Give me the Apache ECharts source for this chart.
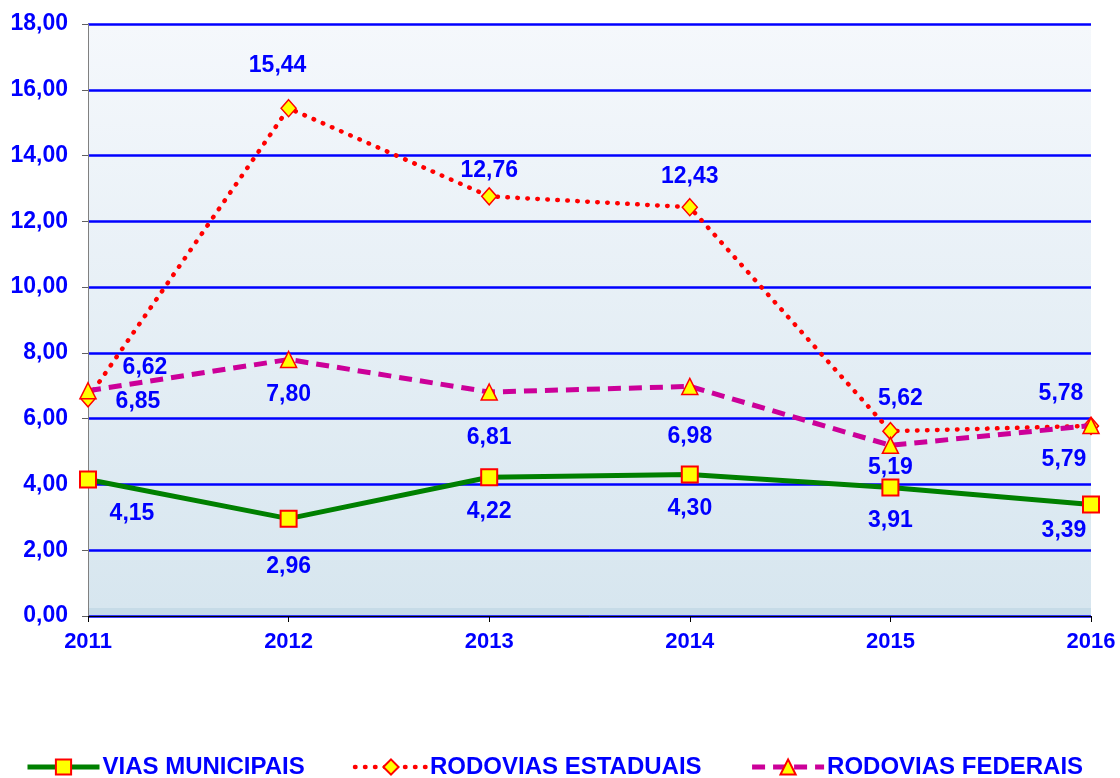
<!DOCTYPE html>
<html>
<head>
<meta charset="utf-8">
<script src="https://cdn.jsdelivr.net/npm/echarts@6/dist/echarts.min.js"></script>
<style>
  html, body { margin: 0; padding: 0; background: #ffffff; }
  #chart { width: 1120px; height: 778px; }
</style>
</head>
<body>
<div id="chart"></div>
<script>
const years = ['2011', '2012', '2013', '2014', '2015', '2016']
const viasMunicipais = [4.15, 2.96, 4.22, 4.30, 3.91, 3.39]
const rodoviasEstaduais = [6.62, 15.44, 12.76, 12.43, 5.62, 5.78]
const rodoviasFederais = [6.85, 7.80, 6.81, 6.98, 5.19, 5.79]

// label placement (pixels from the point), one per year
const viasOffsets = [[44, 34], [0, 48], [0, 34], [0, 34], [0, 33], [-27, 26]]
const estaduaisOffsets = [[57, -31], [-11, -43], [0, -26], [0, -31], [10, -33], [-30, -32]]
const federaisOffsets = [[50, 11], [0, 35], [0, 46], [0, 50], [0, 22], [-27, 34]]

const blue = '#0000ff'
const font = 'Liberation Sans, Arial, sans-serif'
const fmt = v => v.toFixed(2).replace('.', ',')

function points(values, offsets) {
  return values.map((v, i) => ({
    value: v,
    label: { offset: offsets[i] }
  }))
}

const labelStyle = {
  show: true,
  position: 'inside',
  color: blue,
  fontFamily: font,
  fontWeight: 'bold',
  fontSize: 23,
  formatter: p => fmt(p.value)
}

const viasLine = { color: '#008000', width: 5 }
const estaduaisLine = { color: '#ff0000', width: 4.5, type: [0.5, 9.5], cap: 'round' }
const federaisLine = { color: '#cc0099', width: 5, type: [13, 8] }

const chart = echarts.init(document.getElementById('chart'))
chart.setOption({
  animation: false,
  grid: {
    left: 88,
    right: 29,
    top: 24,
    bottom: 162,
    show: true,
    borderWidth: 0,
    backgroundColor: new echarts.graphic.LinearGradient(0, 0, 0, 1, [
      { offset: 0, color: '#f5f8fc' },
      { offset: 0.986, color: '#d7e6ef' },
      { offset: 0.987, color: '#c6dbe7' },
      { offset: 1, color: '#c6dbe7' }
    ])
  },
  legend: {
    left: 20,
    bottom: -6,
    itemWidth: 72,
    itemHeight: 19,
    itemGap: 48,
    textStyle: {
      color: blue,
      fontFamily: font,
      fontWeight: 'bold',
      fontSize: 24,
      padding: [0, 0, 0, -2]
    },
    data: [
      { name: 'VIAS MUNICIPAIS', lineStyle: viasLine },
      { name: 'RODOVIAS ESTADUAIS', lineStyle: estaduaisLine },
      { name: 'RODOVIAS FEDERAIS', lineStyle: federaisLine }
    ]
  },
  xAxis: {
    type: 'category',
    data: years,
    boundaryGap: false,
    axisLine: { lineStyle: { color: '#000000', width: 1 } },
    axisTick: { show: true, length: 6, alignWithLabel: true, lineStyle: { color: '#000000' } },
    axisLabel: {
      margin: 15,
      color: blue,
      fontFamily: font,
      fontWeight: 'bold',
      fontSize: 22
    },
    splitLine: { show: false }
  },
  yAxis: {
    type: 'value',
    min: 0,
    max: 18,
    interval: 2,
    axisLine: { show: true, lineStyle: { color: '#808080', width: 1 } },
    axisTick: { show: true, length: 6, inside: false, lineStyle: { color: '#606060' } },
    axisLabel: {
      margin: 20,
      color: blue,
      fontFamily: font,
      fontWeight: 'bold',
      fontSize: 23,
      formatter: v => fmt(v)
    },
    splitLine: { lineStyle: { color: '#0000ff', width: 2.5 } }
  },
  series: [
    {
      name: 'VIAS MUNICIPAIS',
      type: 'line',
      data: points(viasMunicipais, viasOffsets),
      symbol: 'rect',
      symbolSize: 16,
      lineStyle: viasLine,
      itemStyle: { color: '#ffff00', borderColor: '#ff0000', borderWidth: 2 },
      label: labelStyle,
      z: 2
    },
    {
      name: 'RODOVIAS ESTADUAIS',
      type: 'line',
      data: points(rodoviasEstaduais, estaduaisOffsets),
      symbol: 'diamond',
      symbolSize: [15, 17],
      lineStyle: estaduaisLine,
      itemStyle: { color: '#ffff00', borderColor: '#ff0000', borderWidth: 1.5 },
      label: labelStyle,
      z: 3
    },
    {
      name: 'RODOVIAS FEDERAIS',
      type: 'line',
      data: points(rodoviasFederais, federaisOffsets),
      symbol: 'triangle',
      symbolSize: [16, 16],
      lineStyle: federaisLine,
      itemStyle: { color: '#ffff00', borderColor: '#ff0000', borderWidth: 1.5 },
      label: labelStyle,
      z: 4
    }
  ]
})
</script>
</body>
</html>
